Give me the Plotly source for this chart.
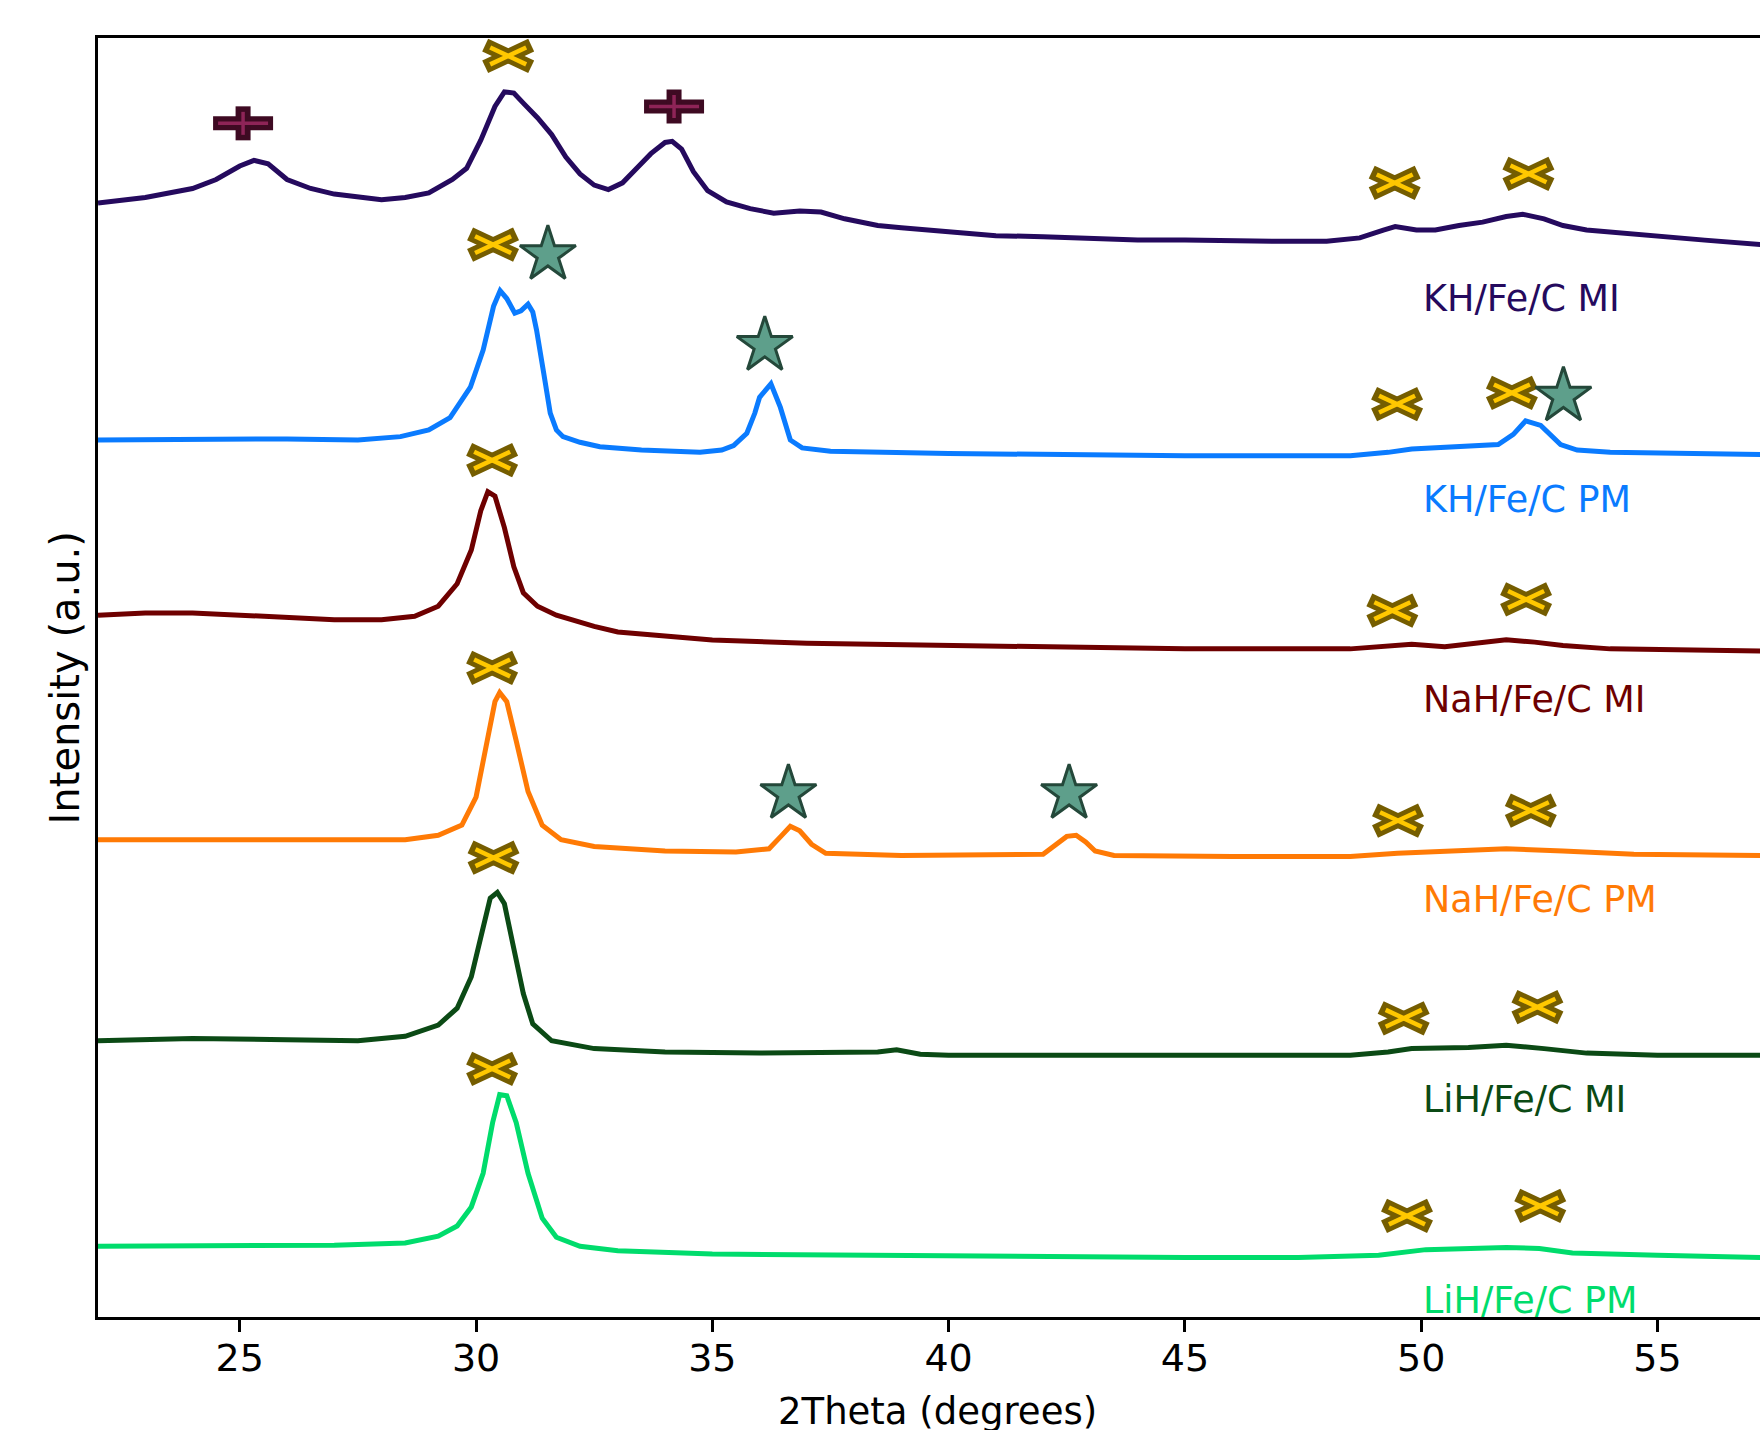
import plotly.graph_objects as go

# ---------------- data (2Theta in degrees, stacked intensity in a.u.) ----------------
tt_kh_mi = [22.0, 22.5, 23.0, 23.5, 24.0, 24.5, 25.0, 25.3, 25.6, 26.0, 26.5, 27.0, 27.5, 28.0, 28.5,
            29.0, 29.5, 29.8, 30.1, 30.4, 30.6, 30.8, 31.0, 31.3, 31.6, 31.9, 32.2, 32.5, 32.8, 33.1,
            33.4, 33.7, 34.0, 34.15, 34.35, 34.6, 34.9, 35.3, 35.8, 36.3, 36.85, 37.3, 37.8, 38.5, 39.0,
            40.0, 41.0, 42.0, 43.0, 44.0, 45.0, 46.0, 47.0, 48.0, 48.7, 49.2, 49.45, 49.9, 50.3, 50.8,
            51.3, 51.8, 52.15, 52.6, 53.0, 53.5, 54.0, 55.0, 56.0, 57.2]
i_kh_mi = [992, 994, 997, 1001, 1005, 1013, 1025, 1030, 1027, 1013, 1005, 1000, 997, 995, 997,
           1001, 1013, 1023, 1048, 1078, 1091, 1090, 1081, 1068, 1053, 1033, 1018, 1008, 1004, 1010,
           1023, 1036, 1046, 1047, 1040, 1020, 1003, 993, 987, 983, 985, 984, 978, 972, 970,
           966, 963, 962, 960, 959, 959, 958, 958, 958, 961, 968, 971, 968, 968, 972,
           975, 980, 982, 978, 972, 968, 966, 962, 959, 955]

tt_kh_pm = [22, 24, 26, 27.5, 28.4, 29.0, 29.45, 29.88, 30.15, 30.37, 30.51, 30.65, 30.82, 30.95, 31.1,
            31.2, 31.28, 31.43, 31.57, 31.7, 31.84, 32.2, 32.62, 33.5, 34.74, 35.2, 35.45, 35.73, 35.9, 36.0,
            36.24, 36.44, 36.65, 36.9, 37.5, 40, 45, 48.5, 49.3, 49.8, 51.0, 51.63, 51.95, 52.21, 52.53,
            52.75, 52.95, 53.3, 54, 57.2]
i_kh_pm = [781, 782, 782, 781, 784, 790, 801, 828, 861, 900, 914, 907, 894, 896, 902,
           895, 879, 841, 805, 790, 784, 779, 775, 772, 770, 772, 776, 787, 805, 819,
           831, 810, 781, 774, 771, 769, 767, 767, 770, 773, 775, 777, 786, 798, 794,
           785, 777, 772, 770, 768]

tt_nah_mi = [22, 23, 24, 25, 26, 27, 28, 28.7, 29.2, 29.6, 29.9, 30.1, 30.25, 30.4, 30.6, 30.8, 31.0,
             31.3, 31.7, 32.5, 33, 34, 35, 37, 40, 45, 48.5, 49.3, 49.8, 50.5, 51.2, 51.8, 52.4, 53,
             54, 57.2]
i_nah_mi = [625, 627, 627, 625, 623, 621, 621, 624, 633, 653, 683, 718, 735, 731, 703, 668, 645,
            633, 625, 615, 610, 606, 603, 600, 598, 595, 595, 598, 599, 597, 600, 603, 601, 598,
            595, 593]

tt_nah_pm = [22, 25, 27, 28.5, 29.2, 29.7, 30.0, 30.2, 30.4, 30.5, 30.65, 30.85, 31.1, 31.4, 31.8,
             32.5, 34, 35.5, 36.2, 36.45, 36.65, 36.85, 37.1, 37.4, 39, 42.0, 42.3, 42.5, 42.7, 42.9,
             43.1, 43.5, 46, 48.5, 49.5, 50.5, 51.8, 53, 54.5, 57.2]
i_nah_pm = [425, 425, 424, 425, 429, 438, 463, 503, 548, 556, 548, 513, 468, 438, 425,
            419, 415, 414, 417, 428, 437, 433, 421, 413, 411, 412, 421, 428, 429, 423,
            415, 411, 410, 410, 413, 415, 417, 415, 412, 411]

tt_lih_mi = [22, 24, 26, 27.5, 28.5, 29.2, 29.6, 29.9, 30.1, 30.3, 30.45, 30.6, 30.8, 31.0, 31.2,
             31.6, 32.5, 34, 36, 38.5, 38.9, 39.4, 40, 45, 48.5, 49.3, 49.8, 51, 51.8, 52.6, 53.5,
             55, 57.2]
i_lih_mi = [246, 248, 247, 246, 250, 260, 275, 303, 338, 373, 378, 368, 328, 288, 261,
            246, 239, 236, 235, 236, 238, 234, 233, 233, 233, 236, 239, 240, 242, 239, 235,
            233, 233]

tt_lih_pm = [22, 25, 27, 28.5, 29.2, 29.6, 29.9, 30.15, 30.35, 30.5, 30.65, 30.85, 31.1, 31.4, 31.7,
             32.2, 33, 35, 40, 45, 47.4, 49.1, 50.1, 51, 51.8, 52.5, 53.2, 55, 57.2]
i_lih_pm = [63, 64, 64, 66, 72, 81, 98, 128, 173, 198, 197, 173, 128, 88, 71,
            63, 59, 56, 54, 53, 53, 55, 60, 61, 62, 61, 57, 55, 53]

series_names = ["KH/Fe/C MI", "KH/Fe/C PM", "NaH/Fe/C MI", "NaH/Fe/C PM", "LiH/Fe/C MI", "LiH/Fe/C PM"]
series_colors = ["#250a5e", "#0a7bff", "#6e0000", "#ff7a05", "#0b4a15", "#00dc6c"]
label_x = [50.0, 50.0, 50.0, 50.0, 50.0, 50.0]
label_y = [906.6, 728.4, 550.2, 372.0, 193.8, 14.8]

# phase markers (2Theta, intensity)
x_marks_tt = [30.68, 49.44, 52.27, 30.36, 49.49, 51.92, 30.34, 49.39, 52.22,
              30.34, 49.51, 52.32, 30.37, 49.63, 52.46, 30.34, 49.70, 52.52]
x_marks_i = [1123, 1010, 1018, 955, 813, 823, 763, 629, 639,
             578, 442, 451, 409, 266, 276, 221, 90, 99]
star_tt = [31.52, 36.11, 53.01, 36.61, 42.55]
star_i = [946, 865, 820, 466, 466]
plus_tt = [25.07, 34.19]
plus_i = [1063, 1078]

x_ticks = [25, 30, 35, 40, 45, 50, 55]

# ---------------- layout constants ----------------
W, H = 1760, 1430
ML, MR, MT, MB = 98, 0, 38, 113
X_RANGE = [22, 57.17]
Y_RANGE = [0, 1139]
plot_w = W - ML - MR
plot_h = H - MT - MB
px_x = plot_w / (X_RANGE[1] - X_RANGE[0])   # pixels per degree
px_y = plot_h / (Y_RANGE[1] - Y_RANGE[0])   # pixels per intensity unit

fig = go.Figure()

all_tt = [tt_kh_mi, tt_kh_pm, tt_nah_mi, tt_nah_pm, tt_lih_mi, tt_lih_pm]
all_i = [i_kh_mi, i_kh_pm, i_nah_mi, i_nah_pm, i_lih_mi, i_lih_pm]
for tt, ii, name, col in zip(all_tt, all_i, series_names, series_colors):
    fig.add_trace(go.Scatter(x=tt, y=ii, mode="lines", name=name,
                             line=dict(color=col, width=5), showlegend=False,
                             hoverinfo="skip"))


def glyph_segments(xs, ys, segs):
    """Build line segments (in data units) around each marker position.
    segs: list of (dx_px, dy_px) half-vectors; each gives a segment from -v to +v."""
    gx, gy = [], []
    for x0, y0 in zip(xs, ys):
        for dxp, dyp in segs:
            dx = dxp / px_x
            dy = dyp / px_y
            gx += [x0 - dx, x0 + dx, None]
            gy += [y0 - dy, y0 + dy, None]
    return gx, gy


# "x" markers: thick dark olive outline with yellow core
for segs, col, wd in [
    ([(23.0, 10.8), (23.0, -10.8)], "#755d00", 14),
    ([(18.0, 8.4), (18.0, -8.4)], "#ffc800", 4.5),
]:
    gx, gy = glyph_segments(x_marks_tt, x_marks_i, segs)
    fig.add_trace(go.Scatter(x=gx, y=gy, mode="lines", line=dict(color=col, width=wd),
                             showlegend=False, hoverinfo="skip"))

# "+" markers
for segs, col, wd in [
    ([(30.0, 0.0)], "#3e0a22", 14),
    ([(0.0, 17.0)], "#3e0a22", 15),
    ([(25.0, 0.0), (0.0, 11.5)], "#8e2457", 3.5),
]:
    gx, gy = glyph_segments(plus_tt, plus_i, segs)
    fig.add_trace(go.Scatter(x=gx, y=gy, mode="lines", line=dict(color=col, width=wd),
                             showlegend=False, hoverinfo="skip"))

# star markers
fig.add_trace(go.Scatter(x=star_tt, y=star_i, mode="markers",
                         marker=dict(symbol="star", size=42, color="#5e9f8b",
                                     line=dict(color="#24483a", width=3)),
                         showlegend=False, hoverinfo="skip", cliponaxis=False))

FONT = "DejaVu Sans"
annotations = []
for name, col, lx, ly in zip(series_names, series_colors, label_x, label_y):
    annotations.append(dict(x=lx, y=ly, xref="x", yref="y", text=name, showarrow=False,
                            xanchor="left", yanchor="middle",
                            font=dict(family=FONT, size=36.5, color=col)))

# axis titles
annotations.append(dict(x=39.77, y=-0.0735, xref="x", yref="paper", text="2Theta (degrees)",
                        showarrow=False, xanchor="center", yanchor="middle",
                        font=dict(family=FONT, size=37, color="black")))
annotations.append(dict(x=-0.0199, y=0.5, xref="paper", yref="paper", text="Intensity (a.u.)",
                        showarrow=False, xanchor="center", yanchor="middle", textangle=-90,
                        font=dict(family=FONT, size=40, color="black")))

fig.update_layout(
    width=W, height=H,
    margin=dict(l=ML, r=MR, t=MT, b=MB, pad=0),
    paper_bgcolor="white", plot_bgcolor="white",
    annotations=annotations,
    xaxis=dict(range=X_RANGE, tickvals=x_ticks, ticktext=[str(t) for t in x_ticks],
               showgrid=False, zeroline=False, showline=True, linecolor="black", linewidth=2.5,
               mirror=True, ticks="outside", ticklen=12, tickwidth=2.5, tickcolor="black",
               ticklabelstandoff=-6,
               tickfont=dict(family=FONT, size=38, color="black")),
    yaxis=dict(range=Y_RANGE, showgrid=False, zeroline=False, showline=True, linecolor="black",
               linewidth=2.5, mirror=False, showticklabels=False, ticks=""),
    font=dict(family=FONT),
)

fig.write_html(
    "out.html",
    config={"displayModeBar": False},
    post_script="document.body.style.margin='0';document.body.style.padding='0';"
                "document.body.style.overflow='hidden';"
                "document.documentElement.style.overflow='hidden';",
)
